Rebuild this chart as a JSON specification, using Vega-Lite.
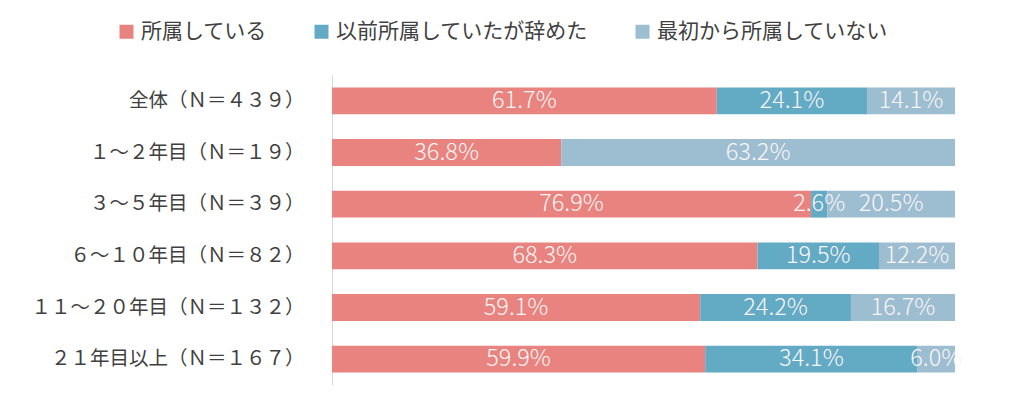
{
  "$schema": "https://vega.github.io/schema/vega-lite/v6.json",
  "width": 623,
  "height": 310,
  "autosize": {"type": "none"},
  "padding": {"left": 332, "top": 75, "right": 69, "bottom": 14},
  "background": "white",
  "config": {
    "font": "Noto Sans CJK JP",
    "view": {"stroke": null}
  },
  "data": {
    "values": [
      {"group": "全体（Ｎ＝４３９）", "category": "所属している", "order": 1, "value": 0.617},
      {"group": "全体（Ｎ＝４３９）", "category": "以前所属していたが辞めた", "order": 2, "value": 0.241},
      {"group": "全体（Ｎ＝４３９）", "category": "最初から所属していない", "order": 3, "value": 0.141},
      {"group": "１～２年目（Ｎ＝１９）", "category": "所属している", "order": 1, "value": 0.368},
      {"group": "１～２年目（Ｎ＝１９）", "category": "最初から所属していない", "order": 3, "value": 0.632},
      {"group": "３～５年目（Ｎ＝３９）", "category": "所属している", "order": 1, "value": 0.769},
      {"group": "３～５年目（Ｎ＝３９）", "category": "以前所属していたが辞めた", "order": 2, "value": 0.026},
      {"group": "３～５年目（Ｎ＝３９）", "category": "最初から所属していない", "order": 3, "value": 0.205},
      {"group": "６～１０年目（Ｎ＝８２）", "category": "所属している", "order": 1, "value": 0.683},
      {"group": "６～１０年目（Ｎ＝８２）", "category": "以前所属していたが辞めた", "order": 2, "value": 0.195},
      {"group": "６～１０年目（Ｎ＝８２）", "category": "最初から所属していない", "order": 3, "value": 0.122},
      {"group": "１１～２０年目（Ｎ＝１３２）", "category": "所属している", "order": 1, "value": 0.591},
      {"group": "１１～２０年目（Ｎ＝１３２）", "category": "以前所属していたが辞めた", "order": 2, "value": 0.242},
      {"group": "１１～２０年目（Ｎ＝１３２）", "category": "最初から所属していない", "order": 3, "value": 0.167},
      {"group": "２１年目以上（Ｎ＝１６７）", "category": "所属している", "order": 1, "value": 0.599},
      {"group": "２１年目以上（Ｎ＝１６７）", "category": "以前所属していたが辞めた", "order": 2, "value": 0.341},
      {"group": "２１年目以上（Ｎ＝１６７）", "category": "最初から所属していない", "order": 3, "value": 0.06}
    ]
  },
  "encoding": {
    "y": {
      "field": "group",
      "type": "nominal",
      "sort": null,
      "title": null,
      "scale": {"paddingInner": 0.48, "paddingOuter": 0.24},
      "axis": {
        "ticks": false,
        "domainColor": "#D9D9D9",
        "domainWidth": 1,
        "labelFontSize": 19.5,
        "labelColor": "#404040",
        "labelPadding": 28,
        "labelLimit": 400
      }
    },
    "order": {"field": "order", "type": "quantitative", "sort": "ascending"}
  },
  "layer": [
    {
      "mark": {"type": "bar"},
      "encoding": {
        "x": {"field": "value", "type": "quantitative", "stack": "normalize", "scale": {"domain": [0, 1], "nice": false}, "axis": null},
        "color": {
          "field": "category",
          "type": "nominal",
          "scale": {
            "domain": ["所属している", "以前所属していたが辞めた", "最初から所属していない"],
            "range": ["#E8837F", "#63AAC5", "#9DBDD1"]
          },
          "legend": {
            "title": null,
            "orient": "none",
            "direction": "horizontal",
            "legendX": -216,
            "legendY": -54,
            "symbolType": "square",
            "symbolSize": 196,
            "symbolStrokeWidth": 0,
            "labelFontSize": 21,
            "labelColor": "#404040",
            "labelOffset": 4,
            "columnPadding": 44,
            "padding": 0,
            "labelLimit": 400
          }
        }
      }
    },
    {
      "mark": {"type": "text", "color": "#FAF6F6", "fontSize": 23.5, "fontWeight": 300, "baseline": "middle", "align": "center"},
      "encoding": {
        "x": {"field": "value", "type": "quantitative", "stack": "normalize", "bandPosition": 0.5},
        "detail": {"field": "category", "type": "nominal"},
        "text": {"field": "value", "type": "quantitative", "format": ".1%"}
      }
    }
  ]
}
